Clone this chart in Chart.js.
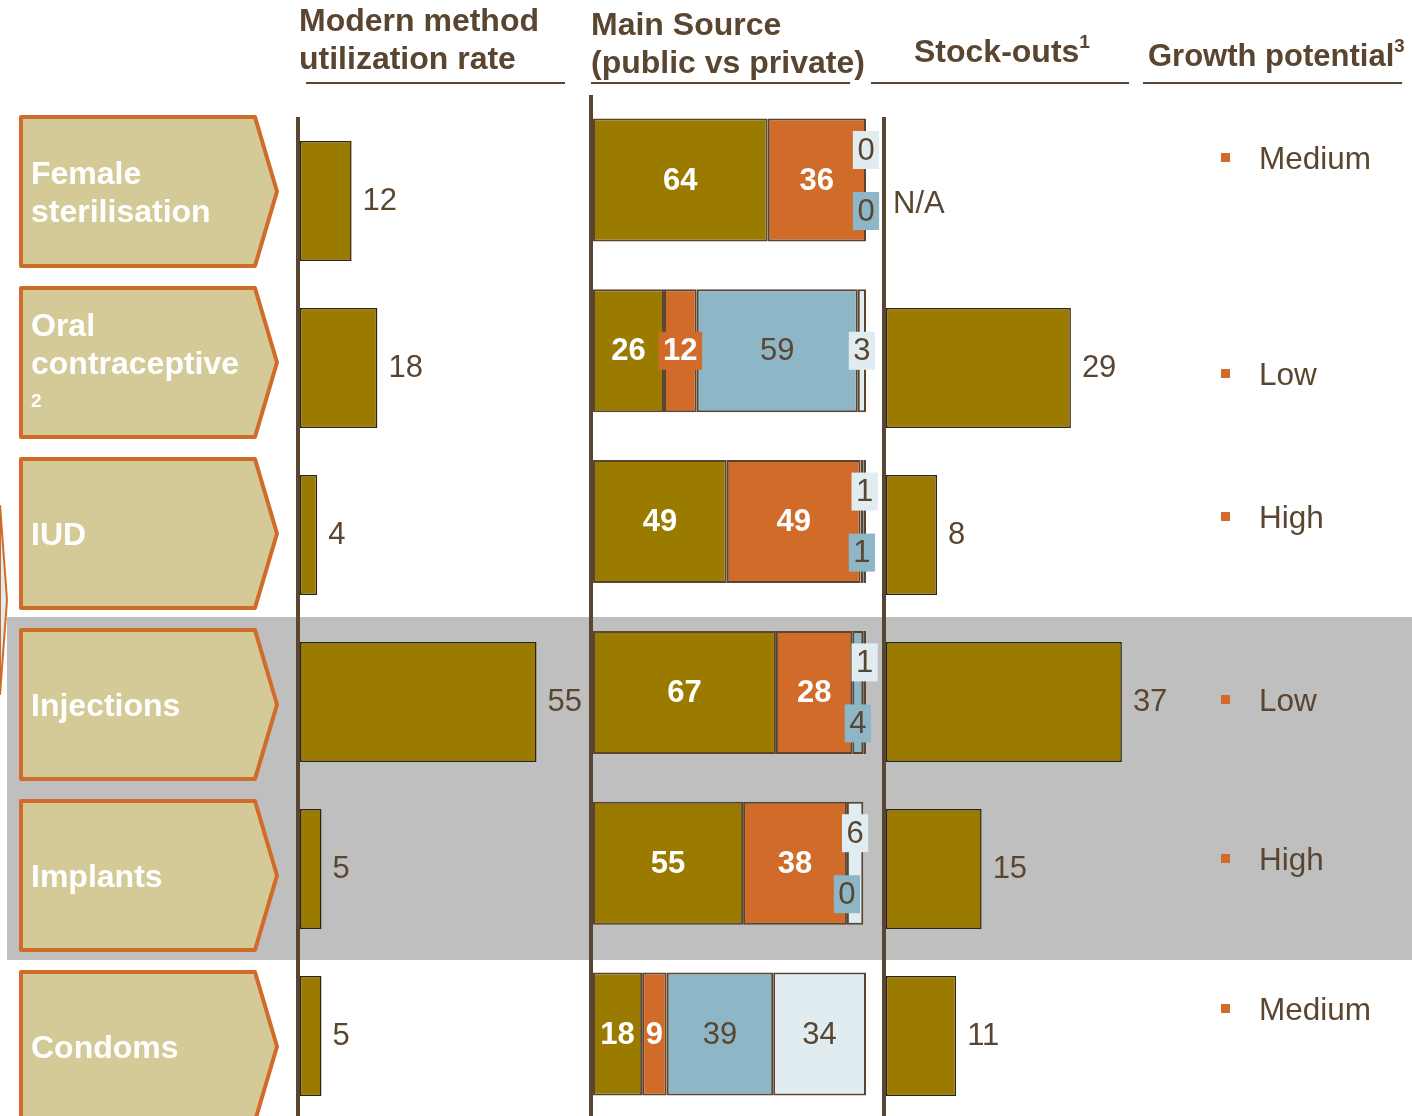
<!DOCTYPE html>
<html>
<head>
<meta charset="utf-8">
<script src="https://cdn.jsdelivr.net/npm/chart.js@4.4.1/dist/chart.umd.min.js"></script>
<style>
  html, body { margin: 0; padding: 0; width: 1412px; height: 1116px; overflow: hidden; background: #fff;
    font-family: "Liberation Sans", Arial, sans-serif; }
  .band { position: absolute; left: 7px; top: 617px; width: 1405px; height: 343px; background: #bfbfbf; }
  svg, canvas { position: absolute; left: 0; top: 0; }
  .hdr { position: absolute; color: #5a4630; font-weight: bold; font-size: 32px; line-height: 38px; white-space: nowrap; }
  .rule { position: absolute; top: 82px; height: 2px; background: #5a4630; }
  .cat { position: absolute; left: 31px; width: 225px; height: 149px; display: flex; flex-direction: column;
    justify-content: center; color: #fff; font-weight: bold; font-size: 32px; line-height: 38px; }
  .cat .note { font-size: 19px; }
  .growth { position: absolute; left: 1259px; color: #5a4630; font-size: 31.5px; line-height: 38px; white-space: nowrap; }
  .growth::before { content: ''; position: absolute; left: -38px; top: 14px; width: 9px; height: 9px; background: #d06b2a; }
  sup { font-size: 60%; line-height: 0; vertical-align: 0.75em; }
</style>
</head>
<body>
<div class="band"></div>
<svg id="arrows" width="1412" height="1116"></svg>
<canvas id="utilChart" width="1412" height="1130"></canvas>
<canvas id="sourceChart" width="1412" height="1130"></canvas>
<canvas id="stockChart" width="1412" height="1130"></canvas>

<div class="hdr" style="left:299px; top:1px;">Modern method<br>utilization rate</div>
<div class="hdr" style="left:591px; top:5px;">Main Source<br>(public vs private)</div>
<div class="hdr" style="left:914px; top:32px;">Stock-outs<sup>1</sup></div>
<div class="hdr" style="left:1148px; top:37px; font-size:31px;">Growth potential<sup>3</sup></div>
<div class="rule" style="left:306px; width:259px;"></div>
<div class="rule" style="left:591px; width:259px;"></div>
<div class="rule" style="left:871px; width:258px;"></div>
<div class="rule" style="left:1143px; width:259px;"></div>
<div id="labels"></div>

<script>
const categories = ['Female sterilisation', 'Oral contraceptive', 'IUD', 'Injections', 'Implants', 'Condoms'];
const categoryNotes = ['', '2', '', '', '', ''];

// modern method utilization rate
const utilization = [12, 18, 4, 55, 5, 5];

// main source shares (%)
const srcPublic = [64, 26, 49, 67, 55, 18];
const srcPrivate = [36, 12, 49, 28, 38, 9];
const srcThird = [0, 59, 1, 4, 0, 39];
const srcFourth = [0, 3, 1, 1, 6, 34];

// stock-outs (null = N/A)
const stockOuts = [null, 29, 8, 37, 15, 11];

const growth = ['Medium', 'Low', 'High', 'Low', 'High', 'Medium'];
const growthY = [158, 374, 517, 700, 859, 1009];

const OLIVE = '#9a7b00', ORANGE = '#d06b2a', BLUE = '#8db6c7', PALE = '#e1ecf1', BROWN = '#5a4630';
const FONT = '"Liberation Sans", Arial, sans-serif';
const W = 1412, H = 1130;

// category arrows + labels
const svg = document.getElementById('arrows');
let svgHtml = '<polygon points="0,505 7,600 0,695" fill="#e1ecf1" stroke="#d06b2a" stroke-width="2"/>';
const labelBox = document.getElementById('labels');
categories.forEach((name, i) => {
    const t = 117 + i * 171;
    svgHtml += `<polygon points="21,${t} 255,${t} 277,${t + 74.5} 255,${t + 149} 21,${t + 149}"
        fill="#d4ca98" stroke="#d06b2a" stroke-width="4" stroke-linejoin="round"/>`;
    const div = document.createElement('div');
    div.className = 'cat';
    div.style.top = t + 'px';
    div.innerHTML = '<div>' + name + '</div>' + (categoryNotes[i] ? '<div class="note">' + categoryNotes[i] + '</div>' : '');
    labelBox.appendChild(div);
});
svg.innerHTML = svgHtml;

growth.forEach((g, i) => {
    const div = document.createElement('div');
    div.className = 'growth';
    div.style.top = (growthY[i] - 19) + 'px';
    div.textContent = g;
    labelBox.appendChild(div);
});

// vertical axis line at the left of each panel
function axisLine(top) {
    return {
        id: 'axisLine',
        beforeDatasetsDraw(chart) {
            const ctx = chart.ctx;
            ctx.save();
            ctx.fillStyle = BROWN;
            ctx.fillRect(chart.chartArea.left - 4, top, 4, H - top);
            ctx.restore();
        }
    };
}

const endLabels = {
    id: 'endLabels',
    afterDatasetsDraw(chart) {
        const ctx = chart.ctx;
        const meta = chart.getDatasetMeta(0);
        const data = chart.data.datasets[0].data;
        ctx.save();
        ctx.font = '31px ' + FONT;
        ctx.fillStyle = BROWN;
        ctx.textBaseline = 'middle';
        ctx.textAlign = 'left';
        meta.data.forEach((bar, i) => {
            const v = data[i];
            if (v == null) {
                ctx.fillText('N/A', chart.chartArea.left + 7, bar.y + 3);
            } else {
                ctx.fillText(String(v), bar.x + 11, bar.y);
            }
        });
        ctx.restore();
    }
};

const segmentLabels = {
    id: 'segmentLabels',
    afterDatasetsDraw(chart) {
        const ctx = chart.ctx;
        const sets = chart.data.datasets;
        ctx.save();
        ctx.textBaseline = 'middle';
        ctx.textAlign = 'center';
        sets.forEach((ds, di) => {
            const meta = chart.getDatasetMeta(di);
            meta.data.forEach((bar, i) => {
                const v = ds.data[i];
                const txt = String(v);
                ctx.font = (di < 2 ? 'bold ' : '') + '31px ' + FONT;
                const tw = ctx.measureText(txt).width;
                const segW = Math.abs(bar.x - bar.base);
                const cx = (bar.x + bar.base) / 2;
                let cy = bar.y;
                const bothSmall = sets[2].data[i] < 8 && sets[3].data[i] < 8;
                if (bothSmall && di === 3) cy -= 30;
                if (bothSmall && di === 2) cy += 31;
                if (tw + 6 > segW) {
                    ctx.fillStyle = ds.backgroundColor;
                    ctx.fillRect(cx - tw / 2 - 4.5, cy - 19, tw + 9, 38);
                }
                ctx.fillStyle = di < 2 ? '#ffffff' : BROWN;
                ctx.fillText(txt, cx, cy + 1);
            });
        });
        ctx.restore();
    }
};

function makeChart(id, area, xMax, datasets, plugins) {
    return new Chart(document.getElementById(id).getContext('2d'), {
        type: 'bar',
        data: { labels: categories, datasets: datasets },
        options: {
            indexAxis: 'y',
            responsive: false,
            animation: false,
            events: [],
            layout: { padding: { left: area.left, right: W - area.right, top: area.top, bottom: H - area.bottom } },
            plugins: { legend: { display: false }, tooltip: { enabled: false } },
            scales: {
                x: { display: false, min: 0, max: xMax, stacked: true },
                y: { display: false, stacked: true }
            }
        },
        plugins: plugins
    });
}

const singleBar = (label, data) => ({
    label: label,
    data: data,
    backgroundColor: OLIVE,
    borderColor: '#2e2410',
    borderWidth: 1.5,
    borderSkipped: false,
    barPercentage: 0.72,
    categoryPercentage: 1
});

makeChart('utilChart', { left: 300, right: 558, top: 117.5, bottom: 1119.5 }, 60,
    [singleBar('Modern method utilization rate', utilization)], [axisLine(117), endLabels]);

makeChart('stockChart', { left: 886, right: 1141, top: 117.5, bottom: 1119.5 }, 40,
    [singleBar('Stock-outs', stockOuts)], [axisLine(117), endLabels]);

const srcSet = (label, data, color) => ({
    label: label,
    data: data,
    backgroundColor: color,
    borderColor: BROWN,
    borderWidth: 2,
    borderSkipped: false,
    barPercentage: 0.72,
    categoryPercentage: 1
});

makeChart('sourceChart', { left: 593, right: 866, top: 94.6, bottom: 1119.4 }, 100, [
    srcSet('Public', srcPublic, OLIVE),
    srcSet('Private', srcPrivate, ORANGE),
    srcSet('Third source', srcThird, BLUE),
    srcSet('Fourth source', srcFourth, PALE)
], [axisLine(95), segmentLabels]);
</script>
</body>
</html>
